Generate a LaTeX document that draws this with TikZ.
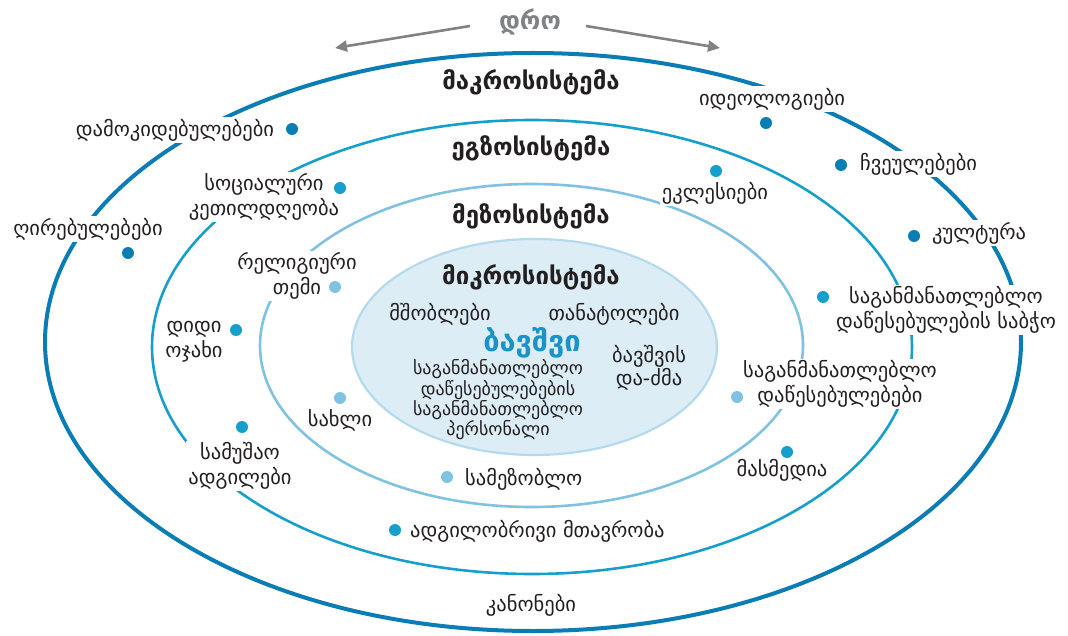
\documentclass[tikz,border=0pt]{standalone}
\usepackage{fontspec}
\setmainfont{DejaVu Sans}
\usetikzlibrary{arrows.meta}

\definecolor{macroblue}{HTML}{0A7DB5}
\definecolor{exoblue}{HTML}{169FCC}
\definecolor{mesoblue}{HTML}{80C2E2}
\definecolor{microline}{HTML}{B5DAEE}
\definecolor{microfill}{HTML}{DCEDF6}
\definecolor{timegray}{HTML}{808285}
\definecolor{childblue}{HTML}{1A92CB}
\definecolor{ink}{HTML}{231F20}

\tikzset{
  systitle/.style={font=\fontsize{24}{26}\selectfont\bfseries, text=ink, inner sep=1pt},
  lbl/.style={font=\fontsize{20.5}{24.5}\selectfont, text=ink, fill=white, inner sep=2pt, align=center},
  inlbl/.style={font=\fontsize{20.5}{23}\selectfont, text=ink, inner sep=1pt, align=center},
  smalllbl/.style={font=\fontsize{18}{19}\selectfont, text=ink, inner sep=1pt, align=center},
  dotbase/.style={circle, inner sep=0pt, minimum size=12pt},
  macrodot/.style={dotbase, fill=macroblue},
  exodot/.style={dotbase, fill=exoblue},
  mesodot/.style={dotbase, fill=mesoblue},
  timearrow/.style={draw=timegray, line width=2.6pt, -{Triangle[length=12pt, width=11pt]}},
}

\begin{document}
\begin{tikzpicture}[x=1pt, y=-1pt]
\useasboundingbox (0,0) rectangle (1068,636);

% nested system rings
\draw[macroblue, line width=4pt] (533,342) ellipse [x radius=488pt, y radius=289pt];
\draw[exoblue, line width=2.6pt] (532,347) ellipse [x radius=380pt, y radius=227pt];
\draw[mesoblue, line width=2.6pt] (531.5,345.5) ellipse [x radius=271.5pt, y radius=161.5pt];
\draw[microline, fill=microfill, line width=2.2pt] (534.5,347) ellipse [x radius=182.5pt, y radius=108pt];

% time axis
\node[font=\fontsize{25}{27}\selectfont\bfseries, text=timegray] (time) at (530,22) {დრო};
\coordinate (tl0) at (470,26);
\coordinate (tl1) at (335,48);
\coordinate (tr0) at (586,26);
\coordinate (tr1) at (720,48);
\draw[timearrow] (tl0) -- (tl1);
\draw[timearrow] (tr0) -- (tr1);

% system titles
\node[systitle] (macro) at (531,82) {მაკროსისტემა};
\node[systitle] (exo) at (531,148) {ეგზოსისტემა};
\node[systitle] (meso) at (531,216) {მეზოსისტემა};
\node[systitle] (micro) at (531,277) {მიკროსისტემა};

% microsystem contents
\node[inlbl] (parents) at (440,314) {მშობლები};
\node[inlbl] (peers) at (614,314) {თანატოლები};
\node[font=\fontsize{29}{31}\selectfont\bfseries, text=childblue] (child) at (532,343) {ბავშვი};
\node[smalllbl] (staff) at (498,400) {საგანმანათლებლო\\დაწესებულებების\\საგანმანათლებლო\\პერსონალი};
\node[inlbl] (siblings) at (649,368) {ბავშვის\\და-ძმა};

% mesosystem labels
\node[lbl] (religion) at (297,276) {რელიგიური\\თემი};
\node[lbl] (home) at (340,420) {სახლი};
\node[lbl, anchor=west] (neighbourhood) at (463,479) {სამეზობლო};
\node[lbl] (schools) at (840,384) {საგანმანათლებლო\\დაწესებულებები};

% exosystem labels
\node[lbl] (welfare) at (264,197) {სოციალური\\კეთილდღეობა};
\node[lbl] (churches) at (715,193) {ეკლესიები};
\node[lbl] (family) at (194,342) {დიდი\\ოჯახი};
\node[lbl] (work) at (240,466) {სამუშაო\\ადგილები};
\node[lbl, anchor=west] (government) at (408,531) {ადგილობრივი მთავრობა};
\node[lbl] (media) at (782,470) {მასმედია};
\node[lbl] (board) at (946,310) {საგანმანათლებლო\\დაწესებულების საბჭო};

% macrosystem labels
\node[lbl] (attitudes) at (175,130) {დამოკიდებულებები};
\node[lbl] (values) at (88,229) {ღირებულებები};
\node[lbl] (ideologies) at (772,99) {იდეოლოგიები};
\node[lbl, anchor=west] (customs) at (858,164) {ჩვეულებები};
\node[lbl, anchor=west] (culture) at (930,233) {კულტურა};
\node[lbl] (laws) at (531,605) {კანონები};

% markers, drawn over the label backgrounds
\node[mesodot] (d1) at (335,287) {};
\node[mesodot] (d2) at (340,398) {};
\node[mesodot] (d3) at (447,477) {};
\node[mesodot] (d4) at (737,397) {};
\node[exodot] (d5) at (340,188) {};
\node[exodot] (d6) at (716,171) {};
\node[exodot] (d7) at (236,330) {};
\node[exodot] (d8) at (242,427) {};
\node[exodot] (d9) at (395,530) {};
\node[exodot] (d10) at (787,452) {};
\node[exodot] (d11) at (823,297) {};
\node[macrodot] (d12) at (292,129) {};
\node[macrodot] (d13) at (128,253) {};
\node[macrodot] (d14) at (766,123) {};
\node[macrodot] (d15) at (841,165) {};
\node[macrodot] (d16) at (914,236) {};

\end{tikzpicture}
\end{document}
